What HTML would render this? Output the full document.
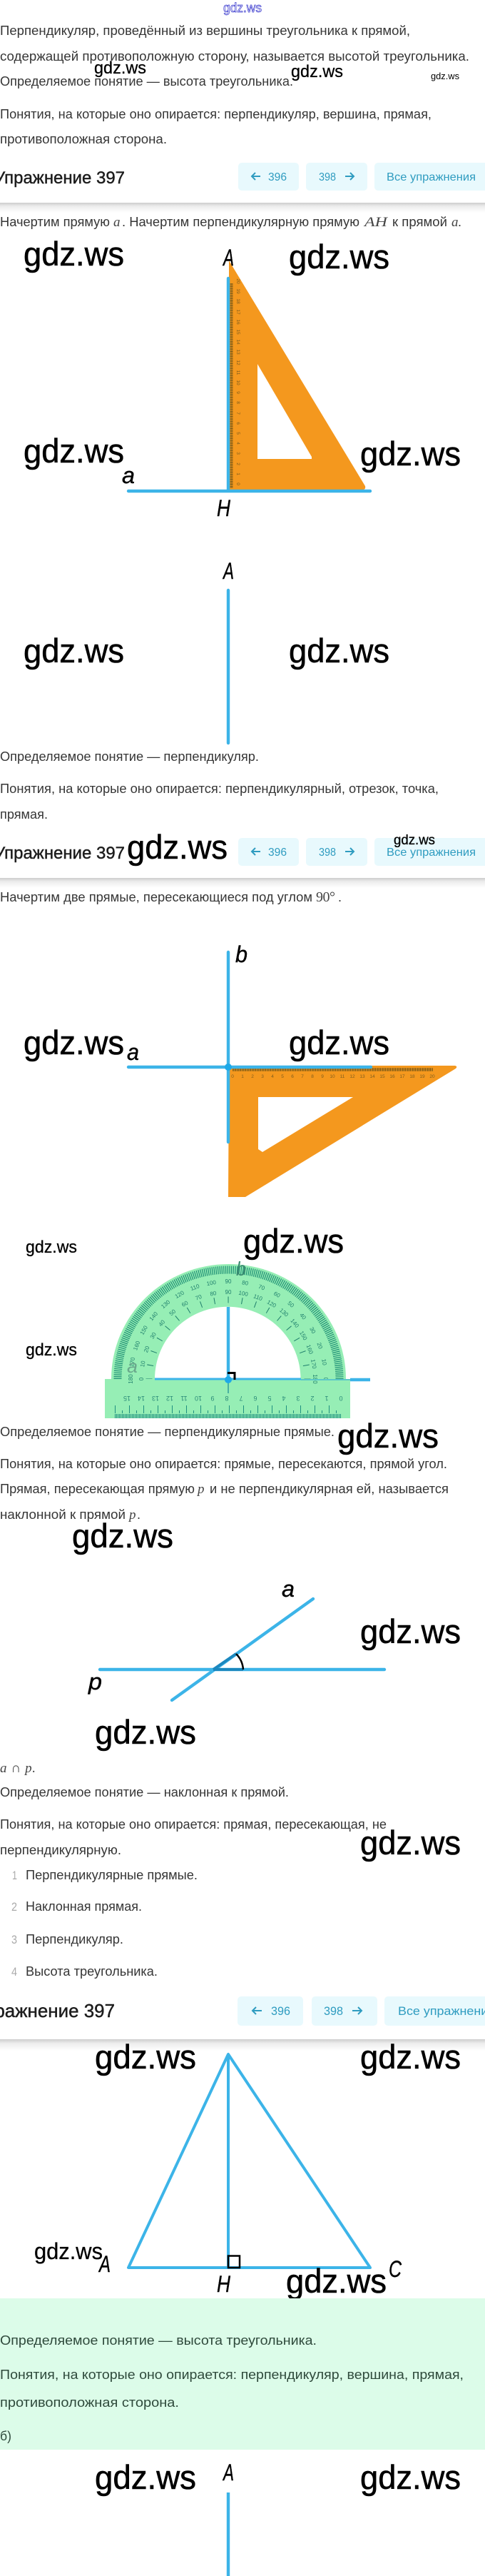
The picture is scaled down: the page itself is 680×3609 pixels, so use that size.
<!DOCTYPE html>
<html lang="ru"><head><meta charset="utf-8"><title>Упражнение 397</title>
<style>
html,body{margin:0;padding:0;background:#fff;width:680px;height:3609px;overflow:hidden}
svg{display:block}
text{font-family:"Liberation Sans",sans-serif}
.t{font-size:18px;fill:#363636}
.g{font-size:18px;fill:#2f4a3c}
.m{font-family:"Liberation Serif",serif;font-style:italic;font-size:19px;fill:#444}
.h{font-size:24px;fill:#1c1c1c;stroke:#1c1c1c;stroke-width:.45}
.b{font-size:16px;fill:#2f9cc0}
.w{font-size:47px;fill:#000;stroke:#000;stroke-width:.6}
.wm{fill:#000;stroke:#000;stroke-width:.3}
.l{font-style:italic;fill:#000;font-size:32px;stroke:#000;stroke-width:.4}
.r{font-size:6.5px;fill:#7d5d1e;text-anchor:middle}
.p{font-size:8px;fill:#1f7f6c;text-anchor:middle}
.q{font-size:9px;fill:#2a8a78;text-anchor:middle}
.bl{stroke:#3cb4e8;stroke-width:4.4;fill:none;stroke-linecap:round}
.ar{stroke:#2f9cc0;stroke-width:2;fill:none}
</style></head><body>
<svg xmlns="http://www.w3.org/2000/svg" width="680" height="3609" viewBox="0 0 680 3609">
<defs><linearGradient id="s" x1="0" y1="0" x2="0" y2="1"><stop offset="0" stop-color="#cdcdcd"/><stop offset=".35" stop-color="#ececec"/><stop offset="1" stop-color="#fff"/></linearGradient></defs>
<rect width="680" height="3609" fill="#fff"/>

<text x="313" y="17" font-size="18" textLength="54" lengthAdjust="spacingAndGlyphs" fill="#fff" stroke="#3333cc" stroke-width=".7">gdz.ws</text>

<text class="t" x="0" y="49" textLength="575" lengthAdjust="spacingAndGlyphs">Перпендикуляр, проведённый из вершины треугольника к прямой,</text>
<text class="t" x="0" y="85" textLength="658" lengthAdjust="spacingAndGlyphs">содержащей противоположную сторону, называется высотой треугольника.</text>
<text class="t" x="0" y="120" textLength="411" lengthAdjust="spacingAndGlyphs">Определяемое понятие — высота треугольника.</text>
<text class="t" x="0" y="166" textLength="605" lengthAdjust="spacingAndGlyphs">Понятия, на которые оно опирается: перпендикуляр, вершина, прямая,</text>
<text class="t" x="0" y="201" textLength="234" lengthAdjust="spacingAndGlyphs">противоположная сторона.</text>
<text class="wm" x="132" y="103" font-size="24" textLength="73" lengthAdjust="spacingAndGlyphs">gdz.ws</text>
<text class="wm" x="408" y="108" font-size="24" textLength="73" lengthAdjust="spacingAndGlyphs">gdz.ws</text>
<text x="604" y="111" font-size="13" textLength="40" lengthAdjust="spacingAndGlyphs">gdz.ws</text>

<!-- header 1 -->
<text class="h" x="-8" y="257" textLength="183" lengthAdjust="spacingAndGlyphs">Упражнение 397</text>
<rect x="334" y="228" width="85" height="39" rx="5" fill="#e8f9fd"/>
<rect x="429" y="228" width="86" height="39" rx="5" fill="#e8f9fd"/>
<rect x="525" y="228" width="170" height="39" rx="5" fill="#e8f9fd"/>
<path class="ar" d="M365 247H353M358 242l-5 5 5 5"/>
<text class="b" x="376" y="253" textLength="26" lengthAdjust="spacingAndGlyphs">396</text>
<text class="b" x="447" y="253" textLength="24" lengthAdjust="spacingAndGlyphs">398</text>
<path class="ar" d="M484 247H496M491 242l5 5-5 5"/>
<text class="b" x="542" y="253" textLength="125" lengthAdjust="spacingAndGlyphs">Все упражнения</text>
<rect x="0" y="284" width="680" height="14" fill="url(#s)"/>

<text class="t" x="0" y="317" textLength="154" lengthAdjust="spacingAndGlyphs">Начертим прямую</text>
<text class="m" x="159" y="317">a</text>
<text class="t" x="171" y="317" textLength="333" lengthAdjust="spacingAndGlyphs">. Начертим перпендикулярную прямую</text>
<text class="m" x="511" y="317" textLength="32" lengthAdjust="spacingAndGlyphs">AH</text>
<text class="t" x="550" y="317" textLength="77" lengthAdjust="spacingAndGlyphs">к прямой</text>
<text class="m" x="633" y="317">a</text>
<text class="t" x="642" y="317">.</text>

<!-- figure 1 -->
<path fill="#f4981e" fill-rule="evenodd" d="M321 365L512 681Q513 686 509 686H321ZM361 510V643H437L437 640Z"/>
<line class="bl" x1="320" y1="390" x2="320" y2="686" stroke-linecap="butt"/>
<line x1="324.500" y1="397" x2="324.500" y2="684" stroke="#6f5518" stroke-width="4" stroke-dasharray=".8 .62"/>
<g>
<text class="r" x="334" y="680" transform="rotate(90 334 678)">0</text>
<text class="r" x="334" y="666" transform="rotate(90 334 664)">1</text>
<text class="r" x="334" y="652" transform="rotate(90 334 650)">2</text>
<text class="r" x="334" y="637" transform="rotate(90 334 635)">3</text>
<text class="r" x="334" y="623" transform="rotate(90 334 621)">4</text>
<text class="r" x="334" y="609" transform="rotate(90 334 607)">5</text>
<text class="r" x="334" y="595" transform="rotate(90 334 593)">6</text>
<text class="r" x="334" y="581" transform="rotate(90 334 579)">7</text>
<text class="r" x="334" y="566" transform="rotate(90 334 564)">8</text>
<text class="r" x="334" y="552" transform="rotate(90 334 550)">9</text>
<text class="r" x="334" y="538" transform="rotate(90 334 536)">10</text>
<text class="r" x="334" y="524" transform="rotate(90 334 522)">11</text>
<text class="r" x="334" y="510" transform="rotate(90 334 508)">12</text>
<text class="r" x="334" y="495" transform="rotate(90 334 493)">13</text>
<text class="r" x="334" y="481" transform="rotate(90 334 479)">14</text>
<text class="r" x="334" y="467" transform="rotate(90 334 465)">15</text>
<text class="r" x="334" y="453" transform="rotate(90 334 451)">16</text>
<text class="r" x="334" y="439" transform="rotate(90 334 437)">17</text>
<text class="r" x="334" y="424" transform="rotate(90 334 422)">18</text>
<text class="r" x="334" y="410" transform="rotate(90 334 408)">19</text>
<text class="r" x="334" y="396" transform="rotate(90 334 394)">20</text>
</g>
<line class="bl" x1="180" y1="688" x2="519" y2="688"/>
<text class="l" x="313" y="372" textLength="15" lengthAdjust="spacingAndGlyphs">A</text>
<text class="l" x="171" y="677" textLength="18" lengthAdjust="spacingAndGlyphs">a</text>
<text class="l" x="304" y="723" textLength="19" lengthAdjust="spacingAndGlyphs">H</text>
<text class="w" x="33" y="372" textLength="141" lengthAdjust="spacingAndGlyphs">gdz.ws</text>
<text class="w" x="405" y="376" textLength="141" lengthAdjust="spacingAndGlyphs">gdz.ws</text>
<text class="w" x="33" y="648" textLength="141" lengthAdjust="spacingAndGlyphs">gdz.ws</text>
<text class="w" x="505" y="652" textLength="141" lengthAdjust="spacingAndGlyphs">gdz.ws</text>

<!-- figure 2 -->
<text class="l" x="313" y="811" textLength="15" lengthAdjust="spacingAndGlyphs">A</text>
<line class="bl" x1="320" y1="827" x2="320" y2="1041" stroke-linecap="butt"/>
<text class="w" x="33" y="928" textLength="141" lengthAdjust="spacingAndGlyphs">gdz.ws</text>
<text class="w" x="405" y="928" textLength="141" lengthAdjust="spacingAndGlyphs">gdz.ws</text>
<text class="t" x="0" y="1066" textLength="363" lengthAdjust="spacingAndGlyphs">Определяемое понятие — перпендикуляр.</text>
<text class="t" x="0" y="1111" textLength="615" lengthAdjust="spacingAndGlyphs">Понятия, на которые оно опирается: перпендикулярный, отрезок, точка,</text>
<text class="t" x="0" y="1147" textLength="67" lengthAdjust="spacingAndGlyphs">прямая.</text>

<!-- header 2 -->
<text class="h" x="-8" y="1203" textLength="183" lengthAdjust="spacingAndGlyphs">Упражнение 397</text>
<rect x="334" y="1174" width="85" height="39" rx="5" fill="#e8f9fd"/>
<rect x="429" y="1174" width="86" height="39" rx="5" fill="#e8f9fd"/>
<rect x="525" y="1174" width="170" height="39" rx="5" fill="#e8f9fd"/>
<path class="ar" d="M365 1193H353M358 1188l-5 5 5 5"/>
<text class="b" x="376" y="1199" textLength="26" lengthAdjust="spacingAndGlyphs">396</text>
<text class="b" x="447" y="1199" textLength="24" lengthAdjust="spacingAndGlyphs">398</text>
<path class="ar" d="M484 1193H496M491 1188l5 5-5 5"/>
<text class="b" x="542" y="1199" textLength="125" lengthAdjust="spacingAndGlyphs">Все упражнения</text>
<text class="w" x="178" y="1203" textLength="141" lengthAdjust="spacingAndGlyphs">gdz.ws</text>
<text class="wm" x="552" y="1183" font-size="19" textLength="58" lengthAdjust="spacingAndGlyphs">gdz.ws</text>
<rect x="0" y="1230" width="680" height="14" fill="url(#s)"/>

<text class="t" x="0" y="1263" textLength="438" lengthAdjust="spacingAndGlyphs">Начертим две прямые, пересекающиеся под углом</text>
<text x="443" y="1263" font-size="20" fill="#444" style="font-family:'Liberation Serif',serif" textLength="27">90°</text>
<text class="t" x="474" y="1263">.</text>

<!-- figure 3 -->
<path fill="#f4981e" fill-rule="evenodd" d="M321 1493H638Q642 1494 639 1497L344 1677H320ZM362 1537V1610L368 1614 495 1537Z"/>
<line x1="326" y1="1498.500" x2="607" y2="1498.500" stroke="#6f5518" stroke-width="4.500" stroke-dasharray=".8 .6"/>
<g>
<text class="r" x="326" y="1510">0</text><text class="r" x="340" y="1510">1</text><text class="r" x="354" y="1510">2</text><text class="r" x="368" y="1510">3</text><text class="r" x="382" y="1510">4</text><text class="r" x="396" y="1510">5</text><text class="r" x="410" y="1510">6</text><text class="r" x="424" y="1510">7</text><text class="r" x="438" y="1510">8</text><text class="r" x="452" y="1510">9</text><text class="r" x="466" y="1510">10</text><text class="r" x="480" y="1510">11</text><text class="r" x="494" y="1510">12</text><text class="r" x="508" y="1510">13</text><text class="r" x="522" y="1510">14</text><text class="r" x="536" y="1510">15</text><text class="r" x="550" y="1510">16</text><text class="r" x="564" y="1510">17</text><text class="r" x="578" y="1510">18</text><text class="r" x="592" y="1510">19</text><text class="r" x="606" y="1510">20</text>
</g>
<line class="bl" x1="320" y1="1334" x2="320" y2="1600" stroke-linecap="butt"/>
<line class="bl" x1="180" y1="1495" x2="520" y2="1495"/>
<circle cx="320" cy="1495" r="5" fill="#1ea9e8"/>
<text class="l" x="330" y="1348" textLength="17" lengthAdjust="spacingAndGlyphs">b</text>
<text class="l" x="178" y="1485" textLength="17" lengthAdjust="spacingAndGlyphs">a</text>
<text class="w" x="33" y="1477" textLength="141" lengthAdjust="spacingAndGlyphs">gdz.ws</text>
<text class="w" x="405" y="1477" textLength="141" lengthAdjust="spacingAndGlyphs">gdz.ws</text>

<!-- figure 4 protractor -->
<path fill="#96eeb5" fill-rule="evenodd" d="M156 1932A164.500 161 0 0 1 485 1932H421.500A102 101 0 0 0 217 1932Z"/>
<rect x="147" y="1932" width="344" height="55" fill="#96eeb5"/>
<path d="M165 1932A155.500 153 0 0 1 476 1932" fill="none" stroke="#1f8f75" stroke-width="11" stroke-dasharray="1.200 1.500"/>
<path d="M209 1932A111 111 0 0 1 431 1932" fill="none" stroke="#1f7f6c" stroke-width="9" stroke-dasharray="1 18.37" stroke-dashoffset=".5"/>
<g>
<text class="p" x="320" y="1798">90</text>
<text class="p" x="320" y="1798" transform="rotate(-10 320 1932)">100</text><text class="p" x="320" y="1798" transform="rotate(-20 320 1932)">110</text><text class="p" x="320" y="1798" transform="rotate(-30 320 1932)">120</text><text class="p" x="320" y="1798" transform="rotate(-40 320 1932)">130</text><text class="p" x="320" y="1798" transform="rotate(-50 320 1932)">140</text><text class="p" x="320" y="1798" transform="rotate(-60 320 1932)">150</text><text class="p" x="320" y="1798" transform="rotate(-70 320 1932)">160</text><text class="p" x="320" y="1798" transform="rotate(-80 320 1932)">170</text><text class="p" x="320" y="1798" transform="rotate(-90 320 1932)">180</text>
<text class="p" x="320" y="1798" transform="rotate(10 320 1932)">80</text><text class="p" x="320" y="1798" transform="rotate(20 320 1932)">70</text><text class="p" x="320" y="1798" transform="rotate(30 320 1932)">60</text><text class="p" x="320" y="1798" transform="rotate(40 320 1932)">50</text><text class="p" x="320" y="1798" transform="rotate(50 320 1932)">40</text><text class="p" x="320" y="1798" transform="rotate(60 320 1932)">30</text><text class="p" x="320" y="1798" transform="rotate(70 320 1932)">20</text><text class="p" x="320" y="1798" transform="rotate(80 320 1932)">10</text><text class="p" x="320" y="1798" transform="rotate(90 320 1932)">0</text>
<text class="p" x="320" y="1813">90</text>
<text class="p" x="320" y="1813" transform="rotate(-10 320 1932)">80</text><text class="p" x="320" y="1813" transform="rotate(-20 320 1932)">70</text><text class="p" x="320" y="1813" transform="rotate(-30 320 1932)">60</text><text class="p" x="320" y="1813" transform="rotate(-40 320 1932)">50</text><text class="p" x="320" y="1813" transform="rotate(-50 320 1932)">40</text><text class="p" x="320" y="1813" transform="rotate(-60 320 1932)">30</text><text class="p" x="320" y="1813" transform="rotate(-70 320 1932)">20</text><text class="p" x="320" y="1813" transform="rotate(-80 320 1932)">10</text><text class="p" x="320" y="1813" transform="rotate(-90 320 1932)">0</text>
<text class="p" x="320" y="1813" transform="rotate(10 320 1932)">100</text><text class="p" x="320" y="1813" transform="rotate(20 320 1932)">110</text><text class="p" x="320" y="1813" transform="rotate(30 320 1932)">120</text><text class="p" x="320" y="1813" transform="rotate(40 320 1932)">130</text><text class="p" x="320" y="1813" transform="rotate(50 320 1932)">140</text><text class="p" x="320" y="1813" transform="rotate(60 320 1932)">150</text><text class="p" x="320" y="1813" transform="rotate(70 320 1932)">160</text><text class="p" x="320" y="1813" transform="rotate(80 320 1932)">170</text><text class="p" x="320" y="1813" transform="rotate(90 320 1932)">180</text>
</g>
<line x1="161" y1="1984" x2="479" y2="1984" stroke="#1f8f80" stroke-width="6" stroke-dasharray="1 1"/>
<line x1="161" y1="1978" x2="479" y2="1978" stroke="#1f8f80" stroke-width="4" stroke-dasharray="1 9"/>
<line x1="161" y1="1973" x2="479" y2="1973" stroke="#1f8f80" stroke-width="8" stroke-dasharray="1 19"/>
<g>
<text class="q" x="478" y="1962" transform="rotate(180 478 1959)">0</text><text class="q" x="458" y="1962" transform="rotate(180 458 1959)">1</text><text class="q" x="438" y="1962" transform="rotate(180 438 1959)">2</text><text class="q" x="418" y="1962" transform="rotate(180 418 1959)">3</text><text class="q" x="398" y="1962" transform="rotate(180 398 1959)">4</text><text class="q" x="378" y="1962" transform="rotate(180 378 1959)">5</text><text class="q" x="358" y="1962" transform="rotate(180 358 1959)">6</text><text class="q" x="338" y="1962" transform="rotate(180 338 1959)">7</text><text class="q" x="318" y="1962" transform="rotate(180 318 1959)">8</text><text class="q" x="298" y="1962" transform="rotate(180 298 1959)">9</text><text class="q" x="278" y="1962" transform="rotate(180 278 1959)">10</text><text class="q" x="258" y="1962" transform="rotate(180 258 1959)">11</text><text class="q" x="238" y="1962" transform="rotate(180 238 1959)">12</text><text class="q" x="218" y="1962" transform="rotate(180 218 1959)">13</text><text class="q" x="198" y="1962" transform="rotate(180 198 1959)">14</text><text class="q" x="178" y="1962" transform="rotate(180 178 1959)">15</text>
</g>
<line x1="320" y1="1831" x2="320" y2="1932" stroke="#3cb4e8" stroke-width="4.400"/>
<line x1="320" y1="1936" x2="320" y2="1952" stroke="#2f9c9c" stroke-width="1.500"/>
<line x1="217" y1="1932" x2="422" y2="1932" stroke="#3cb4e8" stroke-width="3"/>
<line x1="422" y1="1933" x2="491" y2="1933" stroke="#5cc8c8" stroke-width="2"/>
<line x1="491" y1="1933" x2="519" y2="1933" stroke="#3cb4e8" stroke-width="4.400"/>
<path d="M319 1923.500H329V1933" fill="none" stroke="#000" stroke-width="3"/>
<circle cx="320" cy="1933" r="5" fill="#1ea9e8"/>
<text x="331" y="1787" style="font-style:italic;fill:#3a8a70;font-size:28px" textLength="14" lengthAdjust="spacingAndGlyphs">b</text>
<text x="178" y="1923" style="font-style:italic;fill:#6aa88c;font-size:26px" textLength="15" lengthAdjust="spacingAndGlyphs">a</text>
<text class="wm" x="36" y="1755" font-size="24" textLength="72" lengthAdjust="spacingAndGlyphs">gdz.ws</text>
<text class="wm" x="36" y="1899" font-size="24" textLength="72" lengthAdjust="spacingAndGlyphs">gdz.ws</text>
<text class="w" x="341" y="1755" textLength="141" lengthAdjust="spacingAndGlyphs">gdz.ws</text>

<text class="t" x="0" y="2012" textLength="469" lengthAdjust="spacingAndGlyphs">Определяемое понятие — перпендикулярные прямые.</text>
<text class="w" x="473" y="2028" textLength="142" lengthAdjust="spacingAndGlyphs">gdz.ws</text>
<text class="t" x="0" y="2057" textLength="627" lengthAdjust="spacingAndGlyphs">Понятия, на которые оно опирается: прямые, пересекаются, прямой угол.</text>
<text class="t" x="0" y="2092" textLength="273" lengthAdjust="spacingAndGlyphs">Прямая, пересекающая прямую</text>
<text class="m" x="277" y="2092">p</text>
<text class="t" x="294" y="2092" textLength="335" lengthAdjust="spacingAndGlyphs">и не перпендикулярная ей, называется</text>
<text class="t" x="0" y="2128" textLength="176" lengthAdjust="spacingAndGlyphs">наклонной к прямой</text>
<text class="m" x="181" y="2128">p</text>
<text class="t" x="192" y="2128">.</text>
<text class="w" x="101" y="2168" textLength="142" lengthAdjust="spacingAndGlyphs">gdz.ws</text>

<!-- figure 5 -->
<line class="bl" x1="140" y1="2339" x2="539" y2="2339"/>
<line class="bl" x1="241" y1="2382" x2="439" y2="2240"/>
<path d="M299 2339H341" stroke="#1b88bf" stroke-width="4" fill="none"/>
<path d="M299 2339L331 2317" stroke="#1b88bf" stroke-width="4" fill="none"/>
<path d="M331 2317Q340 2326 341 2339" stroke="#000" stroke-width="2.500" fill="none"/>
<text class="l" x="395" y="2237" textLength="18" lengthAdjust="spacingAndGlyphs">a</text>
<text class="l" x="124" y="2367" textLength="19" lengthAdjust="spacingAndGlyphs">p</text>
<text class="w" x="505" y="2302" textLength="141" lengthAdjust="spacingAndGlyphs">gdz.ws</text>
<text class="w" x="133" y="2443" textLength="142" lengthAdjust="spacingAndGlyphs">gdz.ws</text>
<text class="m" x="0" y="2483" textLength="50" lengthAdjust="spacing">a ∩ p.</text>

<text class="t" x="0" y="2517" textLength="405" lengthAdjust="spacingAndGlyphs">Определяемое понятие — наклонная к прямой.</text>
<text class="t" x="0" y="2562" textLength="542" lengthAdjust="spacingAndGlyphs">Понятия, на которые оно опирается: прямая, пересекающая, не</text>
<text class="t" x="0" y="2598" textLength="170" lengthAdjust="spacingAndGlyphs">перпендикулярную.</text>
<text x="505" y="2598" class="w" textLength="141" lengthAdjust="spacingAndGlyphs">gdz.ws</text>
<text x="17" y="2633" font-size="17" fill="#aaa" textLength="7" lengthAdjust="spacingAndGlyphs">1</text>
<text class="t" x="36" y="2633" textLength="241" lengthAdjust="spacingAndGlyphs">Перпендикулярные прямые.</text>
<text x="16" y="2677" font-size="17" fill="#aaa" textLength="8" lengthAdjust="spacingAndGlyphs">2</text>
<text class="t" x="36" y="2677" textLength="163" lengthAdjust="spacingAndGlyphs">Наклонная прямая.</text>
<text x="16" y="2723" font-size="17" fill="#aaa" textLength="8" lengthAdjust="spacingAndGlyphs">3</text>
<text class="t" x="36" y="2723" textLength="137" lengthAdjust="spacingAndGlyphs">Перпендикуляр.</text>
<text x="16" y="2768" font-size="17" fill="#aaa" textLength="8" lengthAdjust="spacingAndGlyphs">4</text>
<text class="t" x="36" y="2768" textLength="185" lengthAdjust="spacingAndGlyphs">Высота треугольника.</text>

<!-- header 3 -->
<text class="h" x="-37" y="2826" style="font-size:26px" textLength="198" lengthAdjust="spacingAndGlyphs">Упражнение 397</text>
<rect x="333" y="2797" width="92" height="41" rx="5" fill="#e8f9fd"/>
<rect x="437" y="2797" width="92" height="41" rx="5" fill="#e8f9fd"/>
<rect x="539" y="2797" width="170" height="41" rx="5" fill="#e8f9fd"/>
<path class="ar" d="M367 2817H354M359 2812l-5 5 5 5"/>
<text class="b" x="380" y="2823" style="font-size:17px" textLength="27" lengthAdjust="spacingAndGlyphs">396</text>
<text class="b" x="454" y="2823" style="font-size:17px" textLength="27" lengthAdjust="spacingAndGlyphs">398</text>
<path class="ar" d="M494 2817H507M502 2812l5 5-5 5"/>
<text class="b" x="558" y="2823" style="font-size:17px" textLength="136" lengthAdjust="spacingAndGlyphs">Все упражнения</text>
<rect x="0" y="2857" width="680" height="16" fill="url(#s)"/>

<!-- figure 6 -->
<path d="M320 2878L180 3177H519Z" fill="none" stroke="#3cb4e8" stroke-width="4" stroke-linejoin="round"/>
<line x1="320" y1="2878" x2="320" y2="3177" stroke="#3cb4e8" stroke-width="4"/>
<path d="M320 3160.500H336V3177H320Z" fill="none" stroke="#000" stroke-width="2.500"/>
<text class="w" x="133" y="2898" textLength="142" lengthAdjust="spacingAndGlyphs">gdz.ws</text>
<text class="w" x="505" y="2898" textLength="141" lengthAdjust="spacingAndGlyphs">gdz.ws</text>
<text class="wm" x="48" y="3165" font-size="32" textLength="96" lengthAdjust="spacingAndGlyphs">gdz.ws</text>
<text class="l" x="139" y="3183" textLength="16" lengthAdjust="spacingAndGlyphs">A</text>
<text class="l" x="304" y="3211" textLength="19" lengthAdjust="spacingAndGlyphs">H</text>
<text class="l" x="545" y="3190" textLength="18" lengthAdjust="spacingAndGlyphs">C</text>
<text class="w" x="401" y="3212" textLength="141" lengthAdjust="spacingAndGlyphs">gdz.ws</text>

<rect x="0" y="3220" width="680" height="212" fill="#dcfce9"/>
<text class="g" x="0" y="3285" textLength="444" lengthAdjust="spacingAndGlyphs">Определяемое понятие — высота треугольника.</text>
<text class="g" x="0" y="3333" textLength="650" lengthAdjust="spacingAndGlyphs">Понятия, на которые оно опирается: перпендикуляр, вершина, прямая,</text>
<text class="g" x="0" y="3372" textLength="251" lengthAdjust="spacingAndGlyphs">противоположная сторона.</text>
<text class="g" x="0" y="3419" textLength="16" lengthAdjust="spacingAndGlyphs">б)</text>

<text class="l" x="313" y="3475" textLength="15" lengthAdjust="spacingAndGlyphs">A</text>
<text class="w" x="133" y="3487" textLength="142" lengthAdjust="spacingAndGlyphs">gdz.ws</text>
<text class="w" x="505" y="3487" textLength="141" lengthAdjust="spacingAndGlyphs">gdz.ws</text>
<line x1="320" y1="3492" x2="320" y2="3609" stroke="#3cb4e8" stroke-width="4.400"/>
</svg>
</body></html>
